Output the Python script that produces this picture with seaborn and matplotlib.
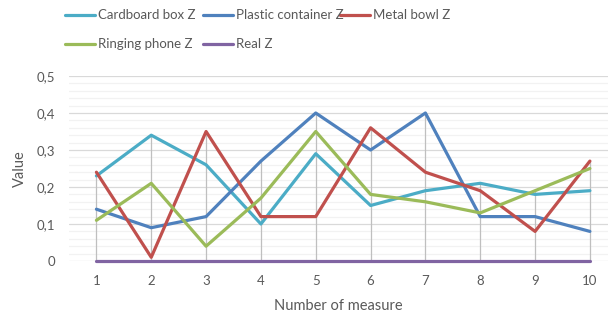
import numpy as np
import pandas as pd
import matplotlib
matplotlib.use("Agg")
import matplotlib.pyplot as plt
from matplotlib.lines import Line2D
from matplotlib.ticker import MultipleLocator, FuncFormatter
import seaborn as sns

measures = [1, 2, 3, 4, 5, 6, 7, 8, 9, 10]
cardboard_box = [0.23, 0.34, 0.26, 0.10, 0.29, 0.15, 0.19, 0.21, 0.18, 0.19]
plastic_container = [0.14, 0.09, 0.12, 0.27, 0.40, 0.30, 0.40, 0.12, 0.12, 0.08]
metal_bowl = [0.24, 0.01, 0.35, 0.12, 0.12, 0.36, 0.24, 0.19, 0.08, 0.27]
ringing_phone = [0.11, 0.21, 0.04, 0.17, 0.35, 0.18, 0.16, 0.13, 0.19, 0.25]
real = [0, 0, 0, 0, 0, 0, 0, 0, 0, 0]

series_names = ["Cardboard box Z", "Plastic container Z", "Metal bowl Z",
                "Ringing phone Z", "Real Z"]
series_values = [cardboard_box, plastic_container, metal_bowl, ringing_phone, real]
colors = ["#4BACC6", "#4F81BD", "#C0504D", "#9BBB59", "#8064A2"]

df = pd.DataFrame({
    "measure": np.tile(measures, len(series_names)),
    "value": np.concatenate(series_values),
    "series": np.repeat(series_names, len(measures)),
})

sns.set_theme(style="white")
plt.rcParams["font.family"] = ["Lato", "DejaVu Sans"]
text_color = "#595959"

W, H = 609, 320
fig = plt.figure(figsize=(W / 100, H / 100), dpi=100)
ax = fig.add_axes([69 / W, 1 - 261 / H, (608 - 69) / W, (261 - 76) / H])

# gridlines: light minor every 0.02, darker major every 0.1
ax.yaxis.set_major_locator(MultipleLocator(0.1))
ax.yaxis.set_minor_locator(MultipleLocator(0.02))
ax.grid(which="minor", axis="y", color="#F2F2F2", linewidth=0.9, zorder=0)
ax.grid(which="major", axis="y", color="#D9D9D9", linewidth=0.9, zorder=0)
ax.set_axisbelow(True)

# drop lines from the highest point of each measure to the axis
tops = df.groupby("measure")["value"].max()
ax.vlines(tops.index, 0, tops.values, color="#BFBFBF", linewidth=0.9, zorder=1)

line_w = 2.3
sns.lineplot(data=df, x="measure", y="value", hue="series",
             hue_order=series_names, palette=colors, linewidth=line_w,
             ax=ax, legend=False, zorder=3)
for ln in ax.lines:
    ln.set_clip_on(False)

ax.set_xlim(0.5, 10.33)
ax.set_ylim(0, 0.5)
ax.set_xticks(measures)
ax.yaxis.set_major_formatter(FuncFormatter(
    lambda v, _: "0" if abs(v) < 1e-9 else f"{v:.1f}".replace(".", ",")))
ax.tick_params(axis="both", which="both", length=0, labelsize=9.5,
               colors=text_color)
ax.tick_params(axis="x", pad=10)
ax.tick_params(axis="y", pad=10)
for s in ax.spines.values():
    s.set_visible(False)

ax.set_xlabel("Number of measure", fontsize=10.5, color=text_color, labelpad=9)
ax.set_ylabel("Value", fontsize=10.5, color=text_color, labelpad=7)

# legend laid out in two rows across the top
legend_slots = [(65, 15), (203, 15), (340, 15), (65, 44), (203, 44)]
for (px, py), name, c in zip(legend_slots, series_names, colors):
    y = 1 - py / H
    fig.add_artist(Line2D([px / W, (px + 30) / W], [y, y], color=c,
                          linewidth=line_w, transform=fig.transFigure,
                          solid_capstyle="round"))
    fig.text((px + 33) / W, y, name, fontsize=9.5, color=text_color,
             va="center", ha="left")

fig.savefig("out.png", dpi=100)
